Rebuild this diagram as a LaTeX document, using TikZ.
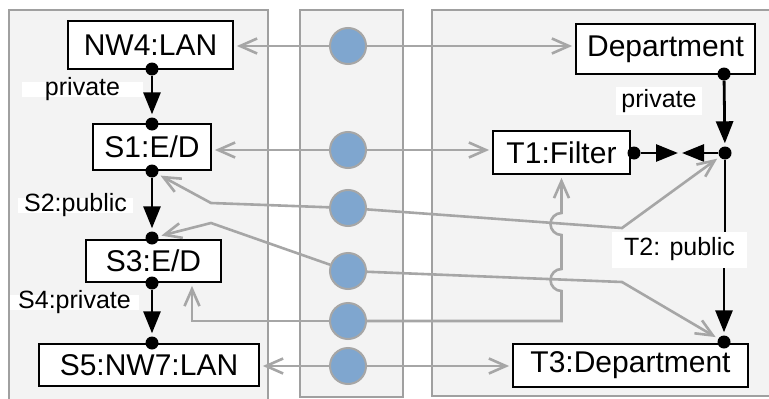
\documentclass[tikz,border=0pt]{standalone}
\usepackage{fontspec}
\setmainfont{Liberation Sans}
\usetikzlibrary{arrows.meta,calc}
\definecolor{gline}{HTML}{A6A6A6}
\definecolor{pborder}{HTML}{A0A0A0}
\definecolor{pfill}{HTML}{F3F3F3}
\definecolor{cfill}{HTML}{7FA6CF}
\tikzset{
  panel/.style={draw=pborder, fill=pfill, line width=2pt},
  box/.style={draw=black, fill=white, line width=1.8pt, inner sep=0pt,
    font=\fontsize{30}{36}\selectfont},
  lbl/.style={fill=white, inner sep=0pt, anchor=base,
    font=\fontsize{25}{30}\selectfont},
  bdot/.style={circle, fill=black, inner sep=0pt, minimum size=13pt},
  port/.style={circle, draw=gline, fill=cfill, line width=2pt, inner sep=0pt, minimum size=36pt},
  blk/.style={draw=black, line width=2.8pt, -{Triangle[length=22pt,width=17pt]}},
  gc/.style={draw=gline, line width=2.6pt, -{Straight Barb[length=17pt,width=15pt]}, shorten >=3pt},
}
\begin{document}
\begin{tikzpicture}[x=1pt,y=-1pt]
\useasboundingbox (0,0) rectangle (769,399);
\clip (0,0) rectangle (769,399);
% panels
\draw[panel] (9,10) rectangle (268,420);
\draw[panel] (300,10) rectangle (403,397);
\draw[panel] (432,10) rectangle (790,396);

% boxes
\node[box, minimum width=165pt, minimum height=48pt] (nw4) at (150.5,45) {NW4:LAN};
\node[box, minimum width=118pt, minimum height=46pt] (s1) at (152,147) {S1:E/D};
\node[box, minimum width=135pt, minimum height=42pt] (s3) at (153.5,261) {S3:E/D};
\node[box, minimum width=220pt, minimum height=42pt] (s5) at (149,365) {S5:NW7:LAN};
\node[box, minimum width=179pt, minimum height=50pt] (dept) at (665.5,49) {Department};
\node[box, minimum width=137pt, minimum height=43pt] (t1) at (561.5,152.5) {T1:Filter};
\node[box, minimum width=235pt, minimum height=43pt] (t3) at (630.5,365.5) {T3:Department};

% ports
\node[port] (c1) at (348,46) {};
\node[port] (c2) at (348,150) {};
\node[port] (c3) at (348,208) {};
\node[port] (c4) at (348,271) {};
\node[port] (c5) at (348,321) {};
\node[port] (c6) at (348,366) {};

% labels
\node[lbl, text height=13pt, text depth=2pt, minimum width=121pt] (lp1) at (82.5,95) {private};
\node[lbl, text height=13pt, text depth=2pt, minimum width=115pt] (lp2) at (75.5,211) {S2:public};
\node[lbl, text height=13pt, text depth=2pt, minimum width=129pt] (lp3) at (74.5,308) {S4:private};
\node[lbl, text height=20pt, text depth=8pt, minimum width=86pt] (lp4) at (659,107) {private};
\node[lbl, text height=23pt, text depth=13pt, minimum width=135pt] (lp5) at (679.5,255) {T2: public};

% dots
\node[bdot] (a1) at (152,69) {};
\node[bdot] (a2) at (152,124) {};
\node[bdot] (a3) at (152,171) {};
\node[bdot] (a4) at (152,238) {};
\node[bdot] (a5) at (152,283) {};
\node[bdot] (a6) at (152,343) {};
\node[bdot] (b1) at (724,74) {};
\node[bdot] (b2) at (634,153) {};
\node[bdot] (jn) at (725,153) {};
\node[bdot] (b3) at (724,342) {};
\coordinate (m1) at (678,153);
\coordinate (m2) at (682,153);
\coordinate (k3) at (211,203);
\coordinate (k4) at (211,223);
\coordinate (k5) at (192,321);
\coordinate (r3) at (622,228);
\coordinate (r4) at (622,282);
\coordinate (r5) at (561.5,321);

% black connectors
\draw[blk, shorten >=3pt] (a1) -- (a2);
\draw[blk, shorten >=3pt] (a3) -- (a4);
\draw[blk, shorten >=3pt] (a5) -- (a6);
\draw[blk, shorten >=3pt] (b1) -- (jn);
\draw[blk] (b2) -- (m1);
\draw[blk] (jn) -- (m2);
\draw[draw=black, line width=2.8pt] (jn) -- (lp5.north -| jn);
\draw[blk, shorten >=3pt] (lp5.south -| b3) -- (b3);

% gray connectors
\draw[gc] (c1) -- (c1 -| nw4.east);
\draw[gc] (c1) -- (c1 -| dept.west);
\draw[gc] (c2) -- (c2 -| s1.east);
\draw[gc] (c2) -- (c2 -| t1.west);
\draw[gc] (c3) -- (k3) -- (a3);
\draw[gc] (c3) -- (r3) -- (jn);
\draw[gc] (c4) -- (k4) -- (a4);
\draw[gc] (c4) -- (r4) -- (b3);
\draw[gc] (c5) -- (k5) -- (k5 |- s3.south);
\draw[gc] (c5) -- (r5) -- ++(0,-30)
   arc[start angle=90, end angle=270, radius=11] -- ++(0,-34)
   arc[start angle=90, end angle=270, radius=11] -- (t1.south);
\draw[gc] (c6) -- (c6 -| s5.east);
\draw[gc] (c6) -- (c6 -| t3.west);
\end{tikzpicture}
\end{document}
